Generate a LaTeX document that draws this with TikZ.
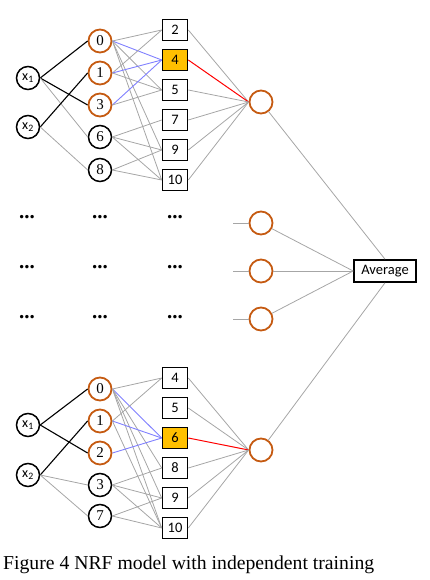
\documentclass[tikz,border=0pt]{standalone}
\usepackage{fontspec}
\setmainfont{Liberation Serif}
\newfontfamily\carl{Carlito}
\definecolor{Burnt}{HTML}{C55A11}
\definecolor{Amber}{HTML}{FFC000}
\definecolor{Wire}{HTML}{A6A6A6}
\definecolor{Lilac}{HTML}{8080FF}
\tikzset{inunit/.style={circle,draw=black,line width=1.5pt,minimum size=23pt,inner sep=0pt,font=\carl\fontsize{14}{14}\selectfont},hidunit/.style={circle,draw=black,line width=1.5pt,minimum size=23pt,inner sep=0pt,font=\fontsize{15}{15}\selectfont},hot/.style={draw=Burnt,line width=1.8pt},leaf/.style={rectangle,draw=black,line width=1.6pt,minimum width=25pt,minimum height=21pt,inner sep=0pt,fill=white,font=\carl\fontsize{14.5}{14.5}\selectfont},pick/.style={fill=Amber},outunit/.style={circle,draw=Burnt,line width=1.8pt,minimum size=23pt,inner sep=0pt},inwire/.style={draw=black,line width=1.1pt},wire/.style={draw=Wire,line width=0.8pt},bluewire/.style={draw=Lilac,line width=0.9pt},redwire/.style={draw=red,line width=1pt},dots/.style={font=\bfseries\fontsize{21}{21}\selectfont}}

\begin{document}
\begin{tikzpicture}[x=1pt,y=-1pt]
\useasboundingbox (0,0) rectangle (430,580);
% upper network
\node[inunit] (tx1) at (28,78) {x\textsubscript{1}};\node[inunit] (tx2) at (28,127) {x\textsubscript{2}};
\node[hidunit,hot] (t0) at (100,41) {0};\node[hidunit,hot] (t1) at (100,73) {1};\node[hidunit,hot] (t3) at (100,105) {3};\node[hidunit] (t6) at (100,137) {6};\node[hidunit] (t8) at (100,170) {8};
\node[leaf] (tb2) at (175,30) {2};\node[leaf,pick] (tb4) at (175,60) {4};\node[leaf] (tb5) at (175,90) {5};\node[leaf] (tb7) at (175,120) {7};\node[leaf] (tb9) at (175,150) {9};\node[leaf] (tb10) at (175,180) {10};
\node[outunit] (tout) at (261,102) {};
\draw[inwire] (tx1.east)--(t0.west);\draw[inwire] (tx1.east)--(t3.west);\draw[wire] (tx1.east)--(t6.west);
\draw[inwire] (tx2.east)--(t1.west);\draw[wire] (tx2.east)--(t8.west);
\draw[wire] (t0.east)--(tb2.west);\draw[bluewire] (t0.east)--(tb4.west);\draw[wire] (t0.east)--(tb5.west);\draw[wire] (t0.east)--(tb9.west);\draw[wire] (t0.east)--(tb10.west);
\draw[wire] (t1.east)--(tb2.west);\draw[bluewire] (t1.east)--(tb4.west);\draw[wire] (t1.east)--(tb5.west);
\draw[bluewire] (t3.east)--(tb4.west);\draw[wire] (t3.east)--(tb5.west);
\draw[wire] (t6.east)--(tb7.west);\draw[wire] (t6.east)--(tb9.west);\draw[wire] (t6.east)--(tb10.west);
\draw[wire] (t8.east)--(tb9.west);\draw[wire] (t8.east)--(tb10.west);
\draw[wire] (tb2.east)--(tout.west);\draw[redwire] (tb4.east)--(tout.west);\draw[wire] (tb5.east)--(tout.west);\draw[wire] (tb7.east)--(tout.west);\draw[wire] (tb9.east)--(tout.west);\draw[wire] (tb10.east)--(tout.west);
% elided networks
\node[dots] (r1a) at (27,217) {...};\node[dots] (r1b) at (100,217) {...};\node[dots] (r1c) at (175,217) {...};
\node[dots] (r2a) at (27,267) {...};\node[dots] (r2b) at (100,267) {...};\node[dots] (r2c) at (175,267) {...};
\node[dots] (r3a) at (27,317) {...};\node[dots] (r3b) at (100,317) {...};\node[dots] (r3c) at (175,317) {...};
\node[outunit] (d1) at (261,223) {};\node[outunit] (d2) at (261,271) {};\node[outunit] (d3) at (261,319) {};
\coordinate (s1) at (233,223);\coordinate (s2) at (233,271);\coordinate (s3) at (233,319);
\draw[wire] (s1)--(d1.west);\draw[wire] (s2)--(d2.west);\draw[wire] (s3)--(d3.west);
\node[leaf,minimum width=62pt,minimum height=22pt] (avg) at (385,271) {Average};
% lower network
\node[inunit] (bx1) at (28,425) {x\textsubscript{1}};\node[inunit] (bx2) at (28,475) {x\textsubscript{2}};
\node[hidunit,hot] (b0) at (100,389) {0};\node[hidunit,hot] (b1) at (100,421) {1};\node[hidunit,hot] (b2) at (100,453) {2};\node[hidunit] (b3) at (100,485) {3};\node[hidunit] (b7) at (100,516) {7};
\node[leaf] (bb4) at (175,378) {4};\node[leaf] (bb5) at (175,408) {5};\node[leaf,pick] (bb6) at (175,438) {6};\node[leaf] (bb8) at (175,468) {8};\node[leaf] (bb9) at (175,498) {9};\node[leaf] (bb10) at (175,528) {10};
\node[outunit] (bout) at (261,450) {};
\draw[inwire] (bx1.east)--(b0.west);\draw[inwire] (bx1.east)--(b2.west);
\draw[inwire] (bx2.east)--(b1.west);\draw[wire] (bx2.east)--(b3.west);\draw[wire] (bx2.east)--(b7.west);
\draw[wire] (b0.east)--(bb4.west);\draw[bluewire] (b0.east)--(bb6.west);\draw[wire] (b0.east)--(bb8.west);\draw[wire] (b0.east)--(bb9.west);\draw[wire] (b0.east)--(bb10.west);
\draw[wire] (b1.east)--(bb4.west);\draw[bluewire] (b1.east)--(bb6.west);\draw[wire] (b1.east)--(bb10.west);
\draw[bluewire] (b2.east)--(bb6.west);
\draw[wire] (b3.east)--(bb8.west);\draw[wire] (b3.east)--(bb9.west);\draw[wire] (b3.east)--(bb10.west);
\draw[wire] (b7.east)--(bb9.west);\draw[wire] (b7.east)--(bb10.west);
\draw[wire] (bb4.east)--(bout.west);\draw[wire] (bb5.east)--(bout.west);\draw[redwire] (bb6.east)--(bout.west);\draw[wire] (bb8.east)--(bout.west);\draw[wire] (bb9.east)--(bout.west);\draw[wire] (bb10.east)--(bout.west);
% averaging
\draw[wire] (tout)--(avg.north);\draw[wire] (d1)--(avg.west);\draw[wire] (d2)--(avg.west);\draw[wire] (d3)--(avg.west);\draw[wire] (bout)--(avg.south);
\node[anchor=base west,inner sep=0pt,font=\fontsize{19.7}{20}\selectfont] (cap) at (3,569) {Figure 4 NRF model with independent training};
\end{tikzpicture}
\end{document}
